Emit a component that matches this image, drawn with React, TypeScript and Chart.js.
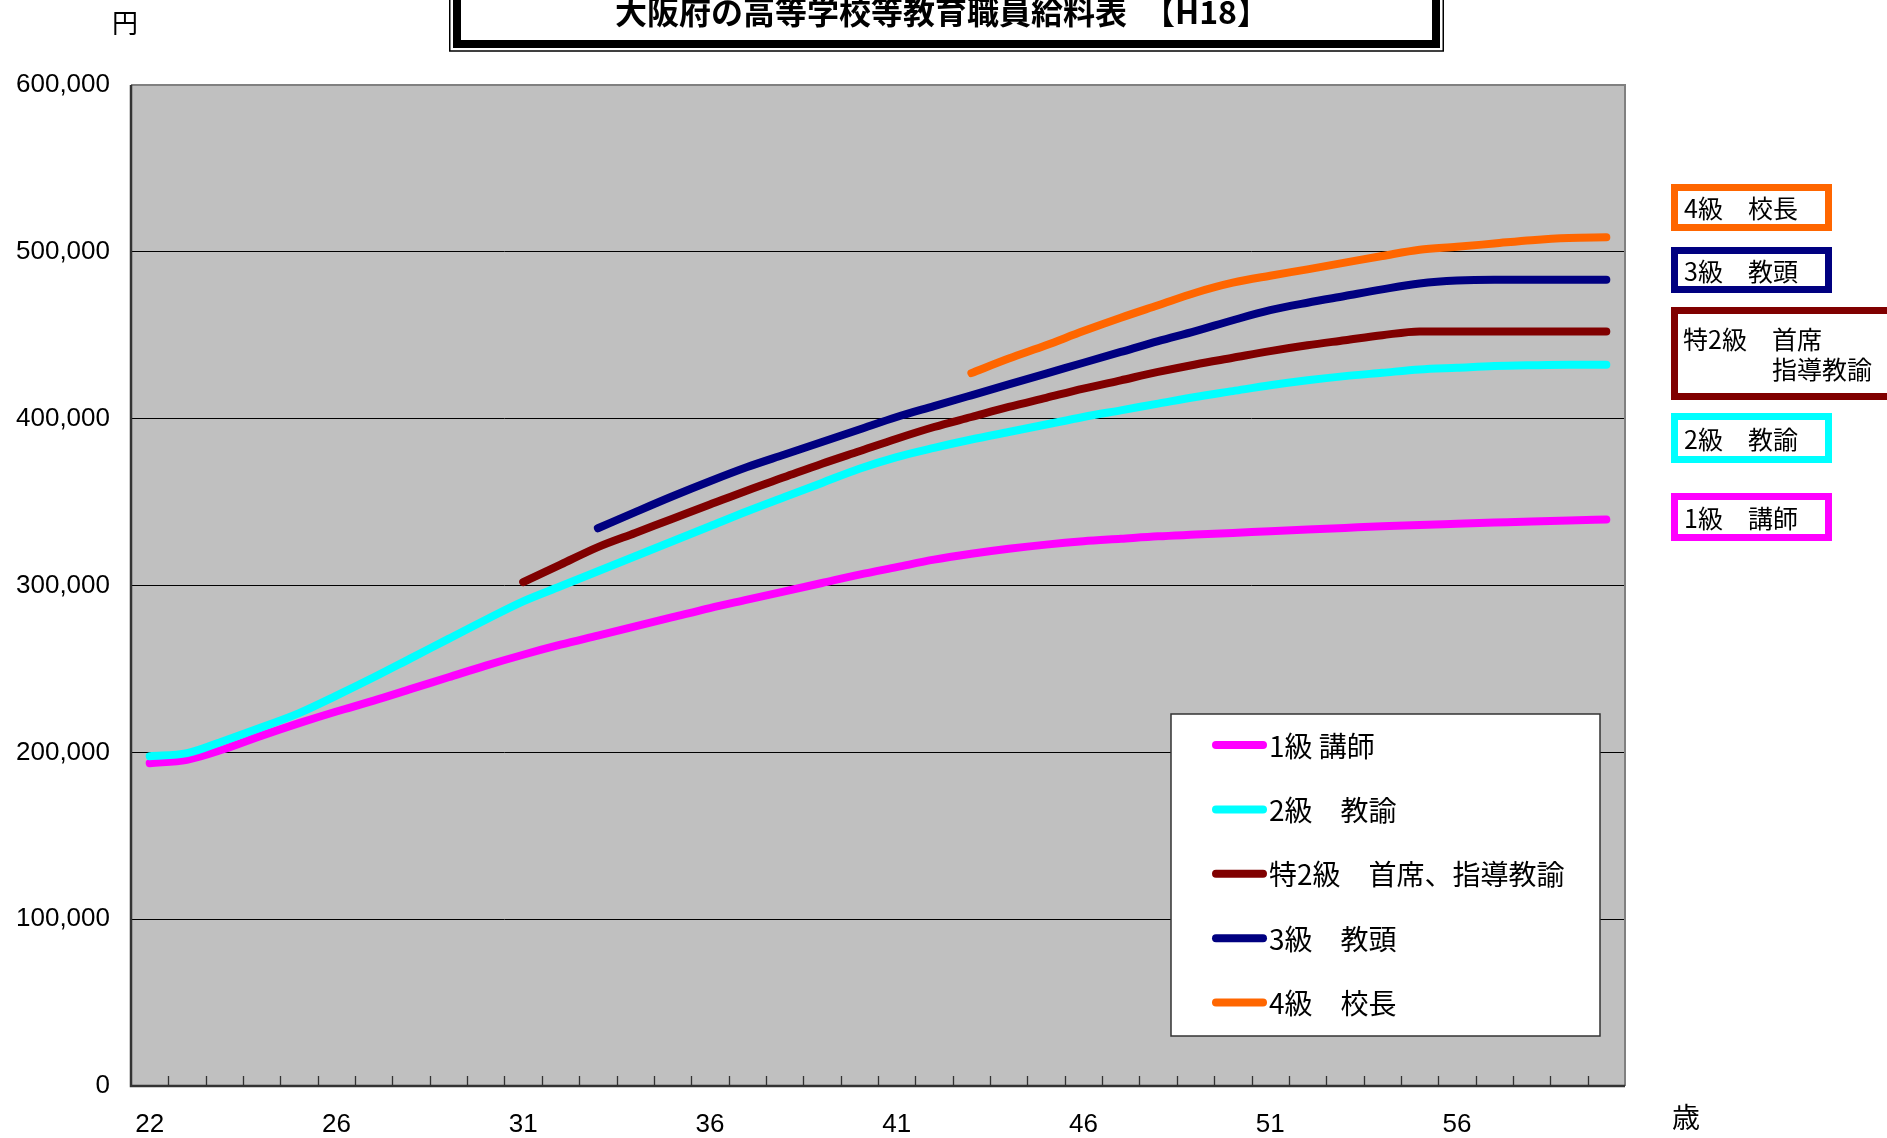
import React, { useEffect, useRef } from "react";
import { Chart, registerables } from "chart.js";

Chart.register(...registerables);

// ---- data ----
const ages = [
  "22", "22", "23", "24", "25", "26", "27", "28", "29", "30",
  "31", "32", "33", "34", "35", "36", "37", "38", "39", "40",
  "41", "42", "43", "44", "45", "46", "47", "48", "49", "50",
  "51", "52", "53", "54", "55", "56", "57", "58", "59", "60",
];

const kyu1 = [
  193500, 195500, 202000, 210000, 217500, 224500, 231000, 238000, 245000, 252000,
  258500, 264500, 270000, 275500, 281000, 286500, 291500, 296500, 301500, 306500,
  311000, 315500, 319000, 322000, 324500, 326500, 328000, 329500, 330500, 331500,
  332500, 333500, 334500, 335500, 336300, 337000, 337700, 338400, 339000, 339500,
];

const kyu2 = [
  197700, 199500, 207000, 215000, 223500, 234000, 245000, 256500, 268000, 279500,
  290500, 299500, 308500, 317500, 326500, 335500, 344500, 353000, 361500, 370000,
  377000, 382500, 387500, 392000, 396500, 401000, 405000, 409000, 413000, 416500,
  420000, 423000, 425500, 427500, 429500, 430500, 431500, 432000, 432300, 432300,
];

const toku2 = [
  null, null, null, null, null, null, null, null, null, null,
  302000, 312500, 323000, 331500, 340000, 348500, 357000, 365000, 373000, 380500,
  388000, 395000, 401000, 407000, 412500, 418000, 423000, 428000, 432500, 436500,
  440500, 444000, 447000, 450000, 452300, 452300, 452300, 452300, 452300, 452300,
];

const kyu3 = [
  null, null, null, null, null, null, null, null, null, null,
  null, null, 334300, 344000, 353500, 362500, 371000, 378500, 386000, 393500,
  401000, 407500, 414000, 420500, 427000, 433500, 440000, 446500, 452500, 459000,
  465000, 469500, 473500, 477500, 481000, 482800, 483300, 483300, 483300, 483300,
];

const kyu4 = [
  null, null, null, null, null, null, null, null, null, null,
  null, null, null, null, null, null, null, null, null, null,
  null, null, 427300, 436000, 444000, 452500, 460500, 468000, 475500, 481500,
  485700, 489500, 493500, 497500, 501300, 503000, 505000, 507000, 508300, 508700,
];

const seriesLabels = ["1級 講師", "2級　教諭", "特2級　首席、指導教諭", "3級　教頭", "4級　校長"];
const seriesColors = ["#FF00FF", "#00FFFF", "#800000", "#000080", "#FF6600"];

const yTicks = [0, 100000, 200000, 300000, 400000, 500000, 600000];

const titleText = "大阪府の高等学校等教育職員給料表　【H18】";
const yUnit = "円";
const xUnit = "歳";
// side boxes (top to bottom): series index, lines of text
const sideBoxes: { series: number; lines: string[] }[] = [
  { series: 4, lines: ["4級　校長"] },
  { series: 3, lines: ["3級　教頭"] },
  { series: 2, lines: ["特2級　首席", "指導教諭"] },
  { series: 1, lines: ["2級　教諭"] },
  { series: 0, lines: ["1級　講師"] },
];

const NUM_FONT = '"Liberation Sans", Arial, sans-serif';
const CJK_FONT = '"Noto Sans CJK JP", "Noto Sans CJK SC", sans-serif';

const decorPlugin = {
  id: "decor",
  beforeDraw(chart: any) {
    const { ctx, chartArea: a } = chart;
    ctx.save();
    ctx.fillStyle = "#ffffff";
    ctx.fillRect(0, 0, chart.width, chart.height);
    ctx.fillStyle = "#C0C0C0";
    ctx.fillRect(a.left, a.top, a.right - a.left, a.bottom - a.top);
    ctx.restore();
  },
  afterDraw(chart: any) {
    const { ctx, chartArea: a } = chart;
    const xs = chart.scales.x;
    ctx.save();

    // plot borders
    ctx.lineCap = "butt";
    ctx.strokeStyle = "#808080";
    ctx.lineWidth = 2;
    ctx.beginPath();
    ctx.moveTo(a.left, a.top);
    ctx.lineTo(a.right, a.top);
    ctx.lineTo(a.right, a.bottom);
    ctx.stroke();
    ctx.strokeStyle = "#333333";
    ctx.lineWidth = 2.5;
    ctx.beginPath();
    ctx.moveTo(a.left, a.top);
    ctx.lineTo(a.left, a.bottom);
    ctx.lineTo(a.right, a.bottom);
    ctx.stroke();

    // inside tick marks on x axis (between categories)
    const step = xs.getPixelForValue(1) - xs.getPixelForValue(0);
    ctx.lineWidth = 1.3;
    ctx.beginPath();
    for (let k = 1; k < ages.length; k++) {
      const x = Math.round(xs.getPixelForValue(k) - step / 2) + 0.5;
      ctx.moveTo(x, a.bottom);
      ctx.lineTo(x, a.bottom - 10);
    }
    ctx.stroke();

    // in-plot legend
    const lx = a.right - 454;
    const ly = a.top + 629;
    const lw = 429;
    const lh = 322;
    ctx.fillStyle = "#ffffff";
    ctx.fillRect(lx, ly, lw, lh);
    ctx.strokeStyle = "#333333";
    ctx.lineWidth = 1.5;
    ctx.strokeRect(lx, ly, lw, lh);
    chart.data.datasets.forEach((ds: any, i: number) => {
      const cy = ly + 31 + i * 64.4;
      ctx.strokeStyle = ds.borderColor;
      ctx.lineWidth = 8;
      ctx.lineCap = "round";
      ctx.beginPath();
      ctx.moveTo(lx + 45, cy);
      ctx.lineTo(lx + 92, cy);
      ctx.stroke();
      ctx.fillStyle = "#000000";
      ctx.font = `28px ${CJK_FONT}`;
      ctx.textAlign = "left";
      ctx.textBaseline = "middle";
      ctx.fillText(ds.label, lx + 98, cy + 1);
    });

    // side boxes
    const boxRects = [
      { x: 1671, y: 184, w: 161, h: 47 },
      { x: 1671, y: 247, w: 161, h: 46 },
      { x: 1671, y: 307, w: 240, h: 93 },
      { x: 1671, y: 413, w: 161, h: 50 },
      { x: 1671, y: 493, w: 161, h: 48 },
    ];
    sideBoxes.forEach((b, i) => {
      const r = boxRects[i];
      ctx.fillStyle = "#ffffff";
      ctx.fillRect(r.x, r.y, r.w, r.h);
      ctx.strokeStyle = seriesColors[b.series];
      ctx.lineWidth = 7;
      ctx.lineCap = "butt";
      ctx.strokeRect(r.x + 3.5, r.y + 3.5, r.w - 7, r.h - 7);
      ctx.fillStyle = "#000000";
      ctx.font = `25px ${CJK_FONT}`;
      ctx.textAlign = "left";
      ctx.textBaseline = "middle";
      if (b.lines.length === 1) {
        ctx.fillText(b.lines[0], r.x + 13, r.y + r.h / 2 + 1);
      } else {
        ctx.fillText(b.lines[0], r.x + 12, r.y + 32);
        const off = ctx.measureText(b.lines[0].split("　")[0] + "　").width;
        ctx.fillText(b.lines[1], r.x + 12 + off, r.y + 62);
      }
    });

    // title box
    ctx.fillStyle = "#ffffff";
    ctx.fillRect(449, -10, 995, 61);
    ctx.strokeStyle = "#000000";
    ctx.lineWidth = 1.5;
    ctx.strokeRect(449.75, -10, 993.5, 61);
    ctx.lineWidth = 8;
    ctx.strokeRect(457, -10, 979, 54);
    ctx.fillStyle = "#000000";
    ctx.font = `bold 32px ${CJK_FONT}`;
    ctx.textAlign = "center";
    ctx.textBaseline = "middle";
    ctx.fillText(titleText, 942, 12);

    // unit labels
    ctx.font = `26px ${CJK_FONT}`;
    ctx.fillText(yUnit, 125, 23);
    ctx.font = `28px ${CJK_FONT}`;
    ctx.fillText(xUnit, 1686, 1117);

    ctx.restore();
  },
};

export default function App() {
  const canvasRef = useRef<HTMLCanvasElement | null>(null);

  useEffect(() => {
    document.body.style.margin = "0";
    const canvas = canvasRef.current;
    if (!canvas) return;
    const data = [kyu1, kyu2, toku2, kyu3, kyu4];
    const chart = new Chart(canvas, {
      type: "line",
      data: {
        labels: ages,
        datasets: data.map((d, i) => ({
          label: seriesLabels[i],
          data: d,
          borderColor: seriesColors[i],
          backgroundColor: seriesColors[i],
          borderWidth: 8,
          pointRadius: 0,
          pointHoverRadius: 0,
          fill: false,
          spanGaps: false,
          cubicInterpolationMode: "monotone" as const,
          borderCapStyle: "round" as const,
          borderJoinStyle: "round" as const,
          order: 5 - i,
        })),
      },
      options: {
        responsive: false,
        animation: false,
        events: [],
        layout: { padding: { top: 85, right: 262, left: 0, bottom: 0 } },
        plugins: {
          legend: { display: false },
          title: { display: false },
          tooltip: { enabled: false },
        },
        scales: {
          x: {
            type: "category",
            offset: true,
            grid: { display: false, drawTicks: false, offset: true },
            border: { display: false },
            ticks: {
              autoSkip: false,
              maxRotation: 0,
              minRotation: 0,
              padding: 23,
              color: "#000000",
              font: { family: NUM_FONT, size: 26 },
              callback: (_v: any, index: number) => (index % 5 === 0 ? ages[index] : ""),
            },
            afterFit: (s: any) => {
              s.height = 52;
            },
          },
          y: {
            min: yTicks[0],
            max: yTicks[yTicks.length - 1],
            afterBuildTicks: (s: any) => {
              s.ticks = yTicks.map((v) => ({ value: v }));
            },
            grid: {
              drawTicks: false,
              lineWidth: 1,
              color: (c: any) =>
                c.tick && (c.tick.value === yTicks[0] || c.tick.value === yTicks[yTicks.length - 1])
                  ? "rgba(0,0,0,0)"
                  : "#000000",
            },
            border: { display: false },
            ticks: {
              padding: 21,
              color: "#000000",
              font: { family: NUM_FONT, size: 26 },
              callback: (v: any) => Number(v).toLocaleString("en-US"),
            },
            afterFit: (s: any) => {
              s.width = 131;
            },
          },
        },
      },
      plugins: [decorPlugin],
    });
    return () => chart.destroy();
  }, []);

  return (
    <div style={{ width: 1887, height: 1138, position: "relative" }}>
      <canvas ref={canvasRef} width={1887} height={1138} style={{ display: "block" }} />
    </div>
  );
}
